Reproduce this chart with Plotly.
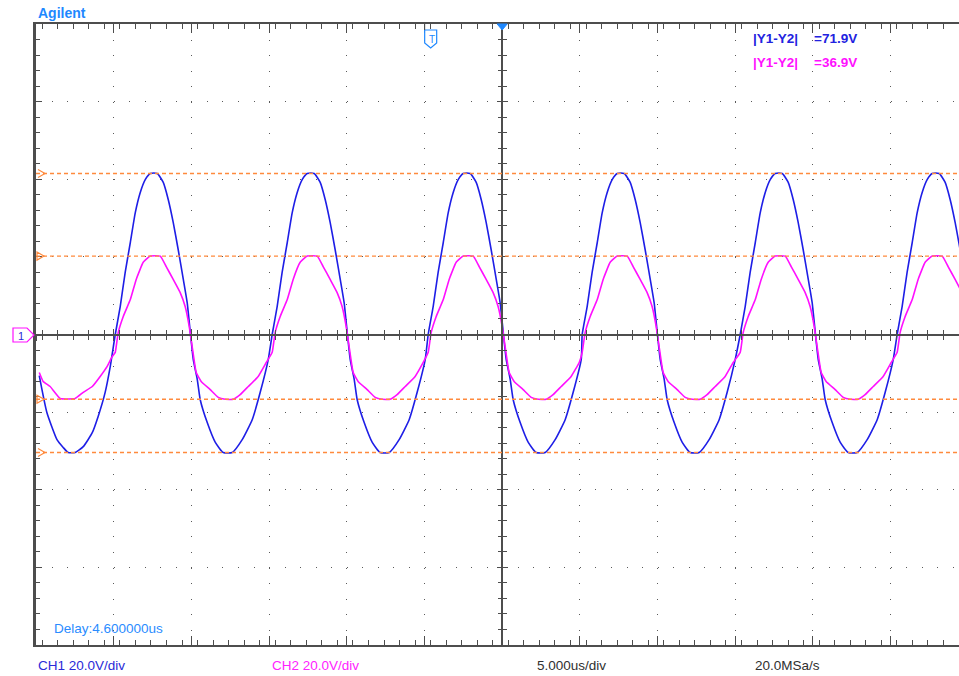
import plotly.graph_objects as go

# ---------------- data ----------------
# time in microseconds relative to trigger, voltage in volts
ch1_time = [
    -25.19, -24.70, -24.05, -23.65, -23.33, -22.88, -22.36, -21.78, -21.40, -20.95, -20.62,
    -20.30, -19.98, -19.66, -19.33, -19.01, -18.69, -18.37, -18.05, -17.60, -17.21, -16.89, -16.57, -16.25,
    -15.92, -15.67, -15.47, -15.28, -15.02, -14.83, -14.38, -13.86, -13.35, -12.77, -12.13, -11.48, -10.97, -10.45,
    -10.20, -9.88, -9.56, -9.23, -8.91, -8.59, -8.27, -7.95, -7.50, -7.11, -6.79, -6.47, -6.15,
    -5.82, -5.57, -5.37, -5.18, -4.92, -4.73, -4.28, -3.76, -3.25, -2.67, -2.03, -1.38, -0.87, -0.35,
    -0.16, 0.16, 0.48, 0.81, 1.13, 1.45, 1.77, 2.09, 2.54, 2.93, 3.25, 3.57, 3.89,
    4.22, 4.47, 4.67, 4.86, 5.12, 5.31, 5.76, 6.28, 6.79, 7.37, 8.01, 8.66, 9.17, 9.69,
    9.75, 10.07, 10.39, 10.72, 11.04, 11.36, 11.68, 12.00, 12.45, 12.84, 13.16, 13.48, 13.80,
    14.13, 14.38, 14.58, 14.77, 15.03, 15.22, 15.67, 16.19, 16.70, 17.28, 17.92, 18.57, 19.08, 19.60,
    19.92, 20.24, 20.56, 20.89, 21.21, 21.53, 21.85, 22.17, 22.62, 23.01, 23.33, 23.65, 23.97,
    24.30, 24.55, 24.75, 24.94, 25.20, 25.39, 25.84, 26.36, 26.87, 27.45, 28.09, 28.74, 29.25, 29.77,
    30.02, 30.34, 30.66, 30.99, 31.31, 31.63, 31.95, 32.27, 32.72, 33.11, 33.43, 33.75, 34.07,
]
ch1_volt = [
    -10.6, -20.1, -27.1, -29.1, -30.4, -30.4, -28.9, -25.3, -21.1, -14.9, -8.2,
    0.0, 7.2, 16.0, 23.7, 31.4, 36.6, 39.9, 41.5, 41.5, 39.2, 34.8, 28.9, 21.9,
    14.2, 8.2, 0.5, -6.4, -11.6, -16.8, -22.7, -27.8, -30.4, -30.4, -27.1, -21.9, -14.9, -6.4,
    0.0, 7.2, 16.0, 23.7, 31.4, 36.6, 39.9, 41.5, 41.5, 39.2, 34.8, 28.9, 21.9,
    14.2, 8.2, 0.5, -6.4, -11.6, -16.8, -22.7, -27.8, -30.4, -30.4, -27.1, -21.9, -14.9, -6.4,
    0.0, 7.2, 16.0, 23.7, 31.4, 36.6, 39.9, 41.5, 41.5, 39.2, 34.8, 28.9, 21.9,
    14.2, 8.2, 0.5, -6.4, -11.6, -16.8, -22.7, -27.8, -30.4, -30.4, -27.1, -21.9, -14.9, -6.4,
    0.0, 7.2, 16.0, 23.7, 31.4, 36.6, 39.9, 41.5, 41.5, 39.2, 34.8, 28.9, 21.9,
    14.2, 8.2, 0.5, -6.4, -11.6, -16.8, -22.7, -27.8, -30.4, -30.4, -27.1, -21.9, -14.9, -6.4,
    0.0, 7.2, 16.0, 23.7, 31.4, 36.6, 39.9, 41.5, 41.5, 39.2, 34.8, 28.9, 21.9,
    14.2, 8.2, 0.5, -6.4, -11.6, -16.8, -22.7, -27.8, -30.4, -30.4, -27.1, -21.9, -14.9, -6.4,
    0.0, 7.2, 16.0, 23.7, 31.4, 36.6, 39.9, 41.5, 41.5, 39.2, 34.8, 28.9, 21.9,
]

ch2_time = [
    -25.19, -24.94, -24.49, -23.84, -22.88, -22.36, -21.78, -21.27, -20.82, -20.50,
    -20.30, -20.11, -19.79, -19.33, -18.95, -18.50, -18.05, -17.40, -17.02, -16.57, -16.12, -15.80,
    -15.54, -15.35, -15.09, -14.77, -14.19, -13.67, -13.22, -12.71, -12.26, -11.74, -11.10, -10.58,
    -10.20, -10.01, -9.69, -9.23, -8.85, -8.40, -7.95, -7.30, -6.92, -6.47, -6.02, -5.70,
    -5.44, -5.25, -4.99, -4.67, -4.09, -3.57, -3.12, -2.61, -2.16, -1.64, -1.00, -0.48,
    -0.16, 0.03, 0.35, 0.81, 1.19, 1.64, 2.09, 2.74, 3.12, 3.57, 4.02, 4.34,
    4.60, 4.79, 5.05, 5.37, 5.95, 6.47, 6.92, 7.43, 7.88, 8.40, 9.04, 9.56,
    9.75, 9.94, 10.26, 10.72, 11.10, 11.55, 12.00, 12.65, 13.03, 13.48, 13.93, 14.25,
    14.51, 14.70, 14.96, 15.28, 15.86, 16.38, 16.83, 17.34, 17.79, 18.31, 18.95, 19.47,
    19.92, 20.11, 20.43, 20.89, 21.27, 21.72, 22.17, 22.82, 23.20, 23.65, 24.10, 24.42,
    24.68, 24.87, 25.13, 25.45, 26.03, 26.55, 27.00, 27.51, 27.96, 28.48, 29.12, 29.64,
    30.02, 30.21, 30.53, 30.99, 31.37, 31.82, 32.27, 32.92, 33.30, 33.75, 34.20,
]
ch2_volt = [
    -9.8, -12.1, -13.4, -16.5, -16.5, -14.9, -13.4, -10.8, -8.2, -5.7,
    -4.6, 0.5, 4.6, 9.0, 14.2, 18.6, 20.2, 20.2, 17.5, 14.2, 10.8, 7.2,
    2.1, -3.1, -9.8, -12.1, -14.2, -16.2, -16.7, -16.7, -15.5, -13.4, -10.8, -7.2,
    -4.6, 0.5, 4.6, 9.0, 14.2, 18.6, 20.2, 20.2, 17.5, 14.2, 10.8, 7.2,
    2.1, -3.1, -9.8, -12.1, -14.2, -16.2, -16.7, -16.7, -15.5, -13.4, -10.8, -7.2,
    -4.6, 0.5, 4.6, 9.0, 14.2, 18.6, 20.2, 20.2, 17.5, 14.2, 10.8, 7.2,
    2.1, -3.1, -9.8, -12.1, -14.2, -16.2, -16.7, -16.7, -15.5, -13.4, -10.8, -7.2,
    -4.6, 0.5, 4.6, 9.0, 14.2, 18.6, 20.2, 20.2, 17.5, 14.2, 10.8, 7.2,
    2.1, -3.1, -9.8, -12.1, -14.2, -16.2, -16.7, -16.7, -15.5, -13.4, -10.8, -7.2,
    -4.6, 0.5, 4.6, 9.0, 14.2, 18.6, 20.2, 20.2, 17.5, 14.2, 10.8, 7.2,
    2.1, -3.1, -9.8, -12.1, -14.2, -16.2, -16.7, -16.7, -15.5, -13.4, -10.8, -7.2,
    -4.6, 0.5, 4.6, 9.0, 14.2, 18.6, 20.2, 20.2, 17.5, 14.2, 10.8,
]

cursor_ch1 = [41.5, -30.4]   # Y1, Y2 for channel 1 (V)
cursor_ch2 = [20.2, -16.7]   # Y1, Y2 for channel 2 (V)

delay_us = 4.6
time_per_div = 5.0
volt_per_div = 20.0
x_range = [delay_us - 6 * time_per_div, 34.0]
y_range = [-4 * volt_per_div, 4 * volt_per_div]

labels_bottom = ["CH1 20.0V/div", "CH2 20.0V/div", "5.000us/div", "20.0MSa/s"]
delay_label = "Delay:4.600000us"

# ---------------- styling ----------------
BLUE = "#1e1ee6"
MAGENTA = "#ff10ff"
ORANGE = "#ff8a3d"
LIGHTBLUE = "#1e88ff"
FRAME = "#4d4d4d"
GRID = "#5a5a5a"
FONT = "Liberation Sans"

W, H = 959, 676
ML, MT, MB = 36, 24, 31
PW, PH = W - ML, H - MT - MB


def px(x):
    return (x - ML) / PW


def py(y):
    return (MT + PH - y) / PH


div_px_x = PW / ((x_range[1] - x_range[0]) / time_per_div)
div_px_y = PH / 8

fig = go.Figure()
fig.add_trace(go.Scatter(x=ch1_time, y=ch1_volt, mode="lines",
                         line=dict(color=BLUE, width=1.6, shape="spline", smoothing=0.5),
                         hoverinfo="skip"))
fig.add_trace(go.Scatter(x=ch2_time, y=ch2_volt, mode="lines",
                         line=dict(color=MAGENTA, width=1.6, shape="spline", smoothing=0.35),
                         hoverinfo="skip"))
# empty traces so that the centre-cross axes get drawn
for xa, ya in [("x2", "y"), ("x3", "y"), ("x", "y2"), ("x", "y3")]:
    fig.add_trace(go.Scatter(x=[None], y=[None], xaxis=xa, yaxis=ya, hoverinfo="skip"))

common_x = dict(range=x_range, tick0=delay_us, dtick=time_per_div, showticklabels=False,
                zeroline=False, tickcolor=FRAME, tickwidth=1)
common_y = dict(range=y_range, tick0=0, dtick=volt_per_div, showticklabels=False,
                zeroline=False, tickcolor=FRAME, tickwidth=1)

fig.update_layout(
    width=W, height=H,
    margin=dict(l=ML, r=0, t=MT, b=MB, pad=0),
    paper_bgcolor="white", plot_bgcolor="white",
    showlegend=False,
    font=dict(family=FONT),
    xaxis=dict(**common_x, showline=True, linecolor=FRAME, linewidth=2, mirror="ticks",
               ticks="inside", ticklen=9,
               minor=dict(ticks="inside", ticklen=5, dtick=time_per_div / 5, tickcolor=FRAME,
                          showgrid=False),
               showgrid=True, gridcolor=GRID, gridwidth=1,
               griddash=f"1px,{div_px_y / 5 - 1:.2f}px"),
    yaxis=dict(**common_y, showline=True, linecolor=FRAME, linewidth=3, mirror=False,
               ticks="inside", ticklen=6,
               minor=dict(ticks="inside", ticklen=4, dtick=volt_per_div / 5, tickcolor=FRAME,
                          showgrid=False),
               showgrid=True, gridcolor=GRID, gridwidth=1,
               griddash=f"1px,{div_px_x / 5 - 1:.2f}px"),
    xaxis2=dict(**common_x, overlaying="x", anchor="free", position=0.5, showline=True,
                linecolor=FRAME, linewidth=2, ticks="inside", ticklen=5, showgrid=False,
                minor=dict(ticks="inside", ticklen=4, dtick=time_per_div / 5, tickcolor=FRAME)),
    xaxis3=dict(**common_x, overlaying="x", anchor="free", position=0.5, showline=False,
                ticks="outside", ticklen=5, showgrid=False,
                minor=dict(ticks="outside", ticklen=4, dtick=time_per_div / 5, tickcolor=FRAME)),
    yaxis2=dict(**common_y, overlaying="y", anchor="free",
                position=(delay_us - x_range[0]) / (x_range[1] - x_range[0]),
                showline=True, linecolor=FRAME, linewidth=2, ticks="inside", ticklen=5,
                showgrid=False,
                minor=dict(ticks="inside", ticklen=4, dtick=volt_per_div / 5, tickcolor=FRAME)),
    yaxis3=dict(**common_y, overlaying="y", anchor="free",
                position=(delay_us - x_range[0]) / (x_range[1] - x_range[0]),
                showline=False, ticks="outside", ticklen=5, showgrid=False,
                minor=dict(ticks="outside", ticklen=4, dtick=volt_per_div / 5, tickcolor=FRAME)),
)

shapes = []
# cursor lines
for lvl in cursor_ch1 + cursor_ch2:
    shapes.append(dict(type="line", xref="paper", x0=0, x1=1, yref="y", y0=lvl, y1=lvl,
                       line=dict(color=ORANGE, width=1.4, dash="4px,3px"), layer="above"))
# cursor chevrons at the left edge
vh = 4 * volt_per_div / div_px_y  # 4 px in volts
for lvl in cursor_ch1:
    shapes.append(dict(type="path", xref="paper", yref="y",
                       path=f"M{px(38)},{lvl + vh} L{px(45)},{lvl} L{px(38)},{lvl - vh}",
                       line=dict(color=ORANGE, width=1.2)))
for lvl in cursor_ch2:
    shapes.append(dict(type="path", xref="paper", yref="y",
                       path=f"M{px(37)},{lvl + vh} L{px(44)},{lvl} L{px(37)},{lvl - vh} Z",
                       line=dict(color=ORANGE, width=1.2)))
# trigger marker "T" at t = 0
tx = 0.0
hw = 6 * time_per_div / div_px_x
shapes.append(dict(type="path", xref="x", yref="paper",
                   path=(f"M{tx - hw},{py(30)} L{tx + hw},{py(30)} L{tx + hw},{py(43)} "
                         f"L{tx},{py(48)} L{tx - hw},{py(43)} Z"),
                   line=dict(color=LIGHTBLUE, width=1.2), fillcolor="white", layer="above"))
shapes.append(dict(type="line", xref="x", yref="paper", x0=tx - hw, x1=tx - hw,
                   y0=py(24), y1=py(30), line=dict(color=FRAME, width=1)))
# delay marker at screen centre
dw = 5 * time_per_div / div_px_x
shapes.append(dict(type="path", xref="x", yref="paper",
                   path=f"M{delay_us - dw},{py(24)} L{delay_us + dw},{py(24)} L{delay_us},{py(30)} Z",
                   line=dict(color=LIGHTBLUE, width=1), fillcolor=LIGHTBLUE, layer="above"))
# channel ground marker on the left
shapes.append(dict(type="path", xref="paper", yref="paper",
                   path=(f"M{px(13)},{py(328)} L{px(27)},{py(328)} L{px(34)},{py(335)} "
                         f"L{px(27)},{py(342)} L{px(13)},{py(342)} Z"),
                   line=dict(color=MAGENTA, width=1.2), fillcolor="white"))
fig.update_layout(shapes=shapes)

ann = []


def text(x, y, s, color, size=13.5, bold=False, xanchor="left"):
    ann.append(dict(xref="paper", yref="paper", x=px(x), y=py(y), text=(f"<b>{s}</b>" if bold else s),
                    showarrow=False, xanchor=xanchor, yanchor="middle",
                    font=dict(family=FONT, size=size, color=color)))


text(36, 13, "Agilent", LIGHTBLUE, 14, True)
text(751, 38.5, "|Y1-Y2|", "#2222e0", 13.5, True)
text(812, 38.5, f"={abs(cursor_ch1[0] - cursor_ch1[1]):.1f}V", "#2222e0", 13.5, True)
text(751, 63, "|Y1-Y2|", MAGENTA, 13.5, True)
text(812, 63, f"={abs(cursor_ch2[0] - cursor_ch2[1]):.1f}V", MAGENTA, 13.5, True)
text(52, 628, delay_label, "#2a8cff", 13.5)
text(36, 665, labels_bottom[0], "#2a2ad8", 13.5)
text(270, 665, labels_bottom[1], "#ff22ff", 13.5)
text(535, 665, labels_bottom[2], "#303030", 13.5)
text(753, 665, labels_bottom[3], "#303030", 13.5)
text(431.5, 39, "T", LIGHTBLUE, 10, False, "center")
text(21, 335.5, "1", "#2a2ad8", 11, False, "center")
fig.update_layout(annotations=ann)

fig.write_html(
    "out.html",
    config={"displayModeBar": False},
    post_script=("document.body.style.margin='0px';"
                 "document.body.style.overflow='hidden';"
                 "document.documentElement.style.overflow='hidden';"),
)
